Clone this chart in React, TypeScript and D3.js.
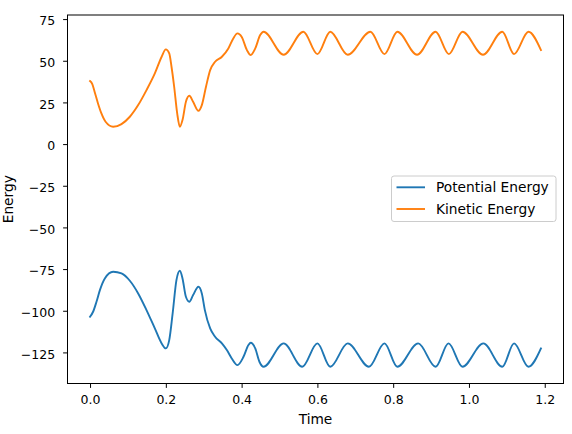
import React, { useEffect, useRef } from 'react';
import * as d3 from 'd3';

// kinetic energy (orange)
const keTime = [
  0, 0.006, 0.012, 0.021, 0.03, 0.041, 0.061, 0.083, 0.105, 0.127, 0.149, 0.171, 0.189, 0.2,
  0.209, 0.215, 0.222, 0.23, 0.237, 0.244, 0.253, 0.262, 0.272, 0.286, 0.295, 0.306, 0.317,
  0.33, 0.348, 0.365, 0.378, 0.389, 0.4, 0.414, 0.424, 0.436, 0.449, 0.458, 0.511, 0.563, 0.6,
  0.634, 0.68, 0.74, 0.777, 0.811, 0.863, 0.912, 0.947, 0.983, 1.037, 1.088, 1.119, 1.157, 1.19,
];
const keValue = [
  37.8, 36, 31.4, 24.4, 18.4, 13.4, 10.4, 12, 16.4, 23.4, 32.4, 42.4, 52.4, 56.8,
  54.4, 46.4, 34.4, 18.4, 10.4, 14.4, 25.4, 29, 25.4, 20, 23.4, 34.4, 44.4,
  49.4, 52.4, 57.4, 63.4, 66.4, 64.4, 56.4, 53.4, 57.4, 65.4, 67.4, 53.6, 67.4, 54,
  67.4, 53.6, 67.4, 54, 67.4, 53.6, 67.4, 54, 67.4, 53.6, 67.4, 54, 67.4, 56.4,
];

// potential energy (blue)
const peTime = [
  0, 0.008, 0.017, 0.026, 0.039, 0.061, 0.083, 0.105, 0.127, 0.149, 0.171, 0.189, 0.2, 0.209,
  0.218, 0.228, 0.237, 0.244, 0.253, 0.262, 0.272, 0.286, 0.295, 0.303, 0.317, 0.33, 0.348,
  0.361, 0.374, 0.389, 0.405, 0.418, 0.424, 0.436, 0.447, 0.458, 0.511, 0.56, 0.6, 0.634,
  0.68, 0.736, 0.777, 0.811, 0.866, 0.912, 0.946, 0.983, 1.038, 1.088, 1.119, 1.157, 1.19,
];
const peValue = [
  -103.6, -100.6, -94.6, -87.6, -80.6, -76.6, -77.6, -82, -89.6, -99.6, -110.6, -119.6, -122.6, -117.6,
  -101.6, -81.6, -76, -80.6, -91.6, -94.6, -90.6, -85.6, -89.6, -99.6, -110.6, -115.6, -119.6,
  -123.6, -128.6, -132.6, -127.6, -120.6, -119.2, -122.6, -130.6, -133.6, -119.6, -133.6, -119.6, -133.6,
  -119.6, -133.6, -119.6, -133.6, -119.6, -133.6, -119.6, -133.6, -119.6, -133.6, -119.6, -133.6, -122.6,
];

const xTicks = [0, 0.2, 0.4, 0.6, 0.8, 1.0, 1.2];
const yTicks = [-125, -100, -75, -50, -25, 0, 25, 50, 75];

const series = [
  { name: 'Potential Energy', color: '#1f77b4', time: peTime, value: peValue },
  { name: 'Kinetic Energy', color: '#ff7f0e', time: keTime, value: keValue },
];

const FONT = '"DejaVu Sans", sans-serif';

function pad([a, b]: number[], f: number) {
  const m = (b - a) * f;
  return [a - m, b + m];
}

export default function App() {
  const svgRef = useRef<SVGSVGElement>(null);

  useEffect(() => {
    if (!svgRef.current) return;
    const svg = d3.select(svgRef.current);
    const width = 572;
    const height = 434;
    const plot = { left: 67.5, right: 563.5, top: 15, bottom: 383.5 };

    svg.selectAll('*').remove();
    svg.attr('width', width).attr('height', height).attr('viewBox', [0, 0, width, height]);

    const allT = [...keTime, ...peTime];
    const allV = [...keValue, ...peValue];

    const x = d3.scaleLinear()
      .domain(pad(d3.extent(allT) as number[], 0.05))
      .range([plot.left, plot.right]);
    const y = d3.scaleLinear()
      .domain(pad(d3.extent(allV) as number[], 0.05))
      .range([plot.bottom, plot.top]);

    // lines
    series.forEach(s => {
      const pts = s.time.map((t, i) => [t, s.value[i]] as [number, number]);
      const line = d3.line<[number, number]>()
        .x(d => x(d[0]))
        .y(d => y(d[1]))
        .curve(d3.curveMonotoneX);
      svg.append('path')
        .datum(pts)
        .attr('fill', 'none')
        .attr('stroke', s.color)
        .attr('stroke-width', 1.9)
        .attr('stroke-linejoin', 'round')
        .attr('stroke-linecap', 'square')
        .attr('d', line);
    });

    // axes
    const xAxis = svg.append('g')
      .attr('transform', `translate(0,${plot.bottom})`)
      .call(d3.axisBottom(x).tickValues(xTicks).tickFormat(d3.format('.1f')).tickSizeInner(4.4).tickSizeOuter(0).tickPadding(7));
    const yAxis = svg.append('g')
      .attr('transform', `translate(${plot.left},0)`)
      .call(d3.axisLeft(y).tickValues(yTicks).tickFormat(d3.format('d')).tickSizeInner(4.4).tickSizeOuter(0).tickPadding(8));

    [xAxis, yAxis].forEach(g => {
      g.select('.domain').remove();
      g.selectAll('line').attr('stroke', '#000').attr('stroke-width', 1);
      g.selectAll('text')
        .attr('fill', '#000')
        .style('font-family', FONT)
        .style('font-size', '12.5px');
    });
    yAxis.selectAll('text').attr('dy', '0.45em');

    // frame
    svg.append('rect')
      .attr('x', plot.left)
      .attr('y', plot.top)
      .attr('width', plot.right - plot.left)
      .attr('height', plot.bottom - plot.top)
      .attr('fill', 'none')
      .attr('stroke', '#000')
      .attr('stroke-width', 1);

    // axis labels
    svg.append('text')
      .attr('x', (plot.left + plot.right) / 2)
      .attr('y', 424)
      .attr('text-anchor', 'middle')
      .style('font-family', FONT)
      .style('font-size', '13.75px')
      .text('Time');
    svg.append('text')
      .attr('transform', `translate(13,${(plot.top + plot.bottom) / 2}) rotate(-90)`)
      .attr('text-anchor', 'middle')
      .style('font-family', FONT)
      .style('font-size', '13.75px')
      .text('Energy');

    // legend
    const legend = svg.append('g').attr('transform', 'translate(391.5,176)');
    legend.append('rect')
      .attr('width', 164.5)
      .attr('height', 45.5)
      .attr('rx', 2.5)
      .attr('fill', '#fff')
      .attr('fill-opacity', 0.8)
      .attr('stroke', '#cccccc')
      .attr('stroke-width', 1);
    series.forEach((s, i) => {
      const cy = 11.3 + i * 21.7;
      legend.append('line')
        .attr('x1', 5).attr('x2', 33.5)
        .attr('y1', cy).attr('y2', cy)
        .attr('stroke', s.color)
        .attr('stroke-width', 1.9);
      legend.append('text')
        .attr('x', 44.5)
        .attr('y', cy + 5)
        .style('font-family', FONT)
        .style('font-size', '13.75px')
        .text(s.name);
    });
  }, []);

  return (
    <svg ref={svgRef} style={{ position: 'absolute', left: 0, top: 0, background: '#fff' }} />
  );
}
